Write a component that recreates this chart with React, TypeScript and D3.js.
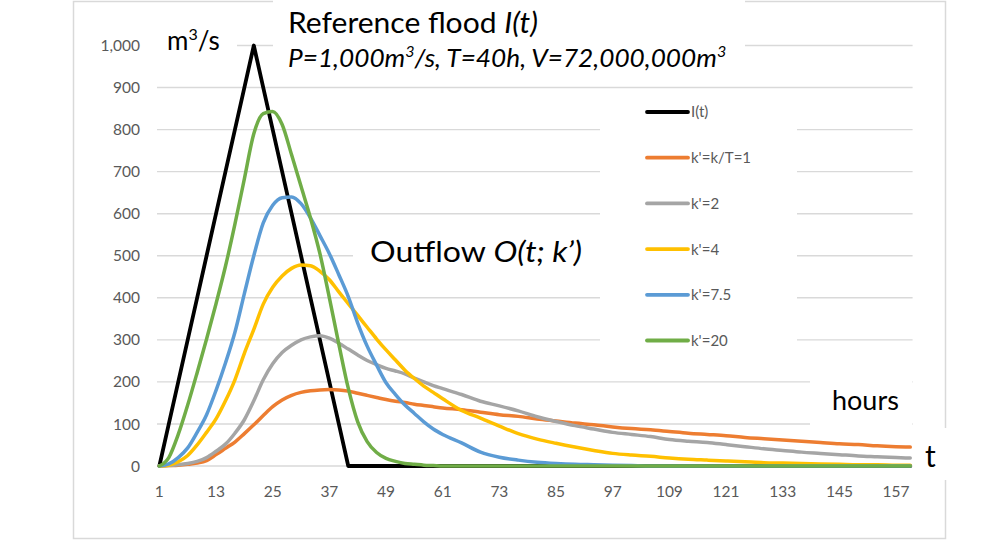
import React from "react";
import * as d3 from "d3";

const HOURS = [1,3,5,7,9,11,13,15,17,19,21,23,25,27,29,31,33,35,37,39,41,43,45,47,49,51,53,55,57,59,
  61,65,69,73,77,81,85,89,93,97,101,105,109,113,117,121,125,129,133,137,141,145,149,153,157,160];

const INFLOW = [0,100,200,300,400,500,600,700,800,900,1000,900,800,700,600,500,400,300,200,100,0,0,0,0,0,0,0,0,0,0,
  0,0,0,0,0,0,0,0,0,0,0,0,0,0,0,0,0,0,0,0,0,0,0,0,0,0];

const OUT_K1 = [0,1,2,4,7,13,27,42,57,77,98,120,141,157,168,175,179,181,182,181,178,173,168,163,158,154,151,147,144,141,
  138,134,128,122,118,112,107,102,98,93,89,86,82,78,75,72,68,65,62,59,56,53,51,48,46,45];

const OUT_K2 = [0,1,3,6,11,20,35,52,78,110,155,205,243,270,287,300,307,310,304,292,278,264,251,241,232,226,219,209,200,191,
  184,170,154,143,131,117,106,96,88,80,75,70,63,59,56,51,46,41,37,33,30,27,24,22,20,19];

const OUT_K4 = [0,2,10,25,50,80,112,155,205,268,325,385,425,452,470,478,476,463,443,414,386,358,330,302,276,252,228,208,190,175,
  160,132,114,95,77,64,54,45,37,30,26,23,19,16,14,12,10,8,7,6,5,4,3,3,2,2];

const OUT_K75 = [0,5,20,43,80,122,180,245,318,410,500,578,620,638,640,624,590,548,505,455,403,340,285,240,198,170,145,125,105,88,
  75,55,33,21,14,9,6,4,3,2,1,0,0,0,0,0,0,0,0,0,0,0,0,0,0,0];

const OUT_K20 = [0,20,75,145,222,302,386,475,575,683,790,838,843,812,740,665,590,505,400,290,185,105,58,32,18,11,6,4,2,1,
  0,0,0,0,0,0,0,0,0,0,0,0,0,0,0,0,0,0,0,0,0,0,0,0,0,0];

const SERIES_NAMES = ["I(t)", "k'=k/T=1", "k'=2", "k'=4", "k'=7.5", "k'=20"];
const SERIES_VALUES = [INFLOW, OUT_K1, OUT_K2, OUT_K4, OUT_K75, OUT_K20];
const SERIES_COLORS = ["#000000", "#ED7D31", "#A5A5A5", "#FFC000", "#5B9BD5", "#70AD47"];

const X_TICKS = [1,13,25,37,49,61,73,85,97,109,121,133,145,157];
const Y_TICKS = [0,100,200,300,400,500,600,700,800,900,1000];

const FONT = "Lato, 'Open Sans', sans-serif";

export default function App() {
  const x = d3.scaleLinear().domain([0.5, 160.5]).range([157, 912.6]);
  const y = d3.scaleLinear().domain([0, 1000]).range([466, 45.5]);
  const fmt = d3.format(",");

  const line = (vals: number[], smooth: boolean) =>
    d3.line<number>()
      .x((_, i) => x(HOURS[i]))
      .y((v) => y(v))
      .curve(smooth ? d3.curveMonotoneX : d3.curveLinear)(vals) || "";

  const legendY = d3.scaleLinear().domain([0, 5]).range([112, 340.5]);

  return (
    <svg width={990} height={544} style={{ position: "absolute", left: 0, top: 0, background: "#fff" }}
      fontFamily={FONT}>
      <rect x={0} y={0} width={990} height={544} fill="#fff" />
      {/* outer chart border */}
      <rect x={73.5} y={1.5} width={872} height={537} fill="none" stroke="#d9d9d9" strokeWidth={1.5} />
      {/* gridlines */}
      {Y_TICKS.map((t) => (
        <line key={t} x1={x.range()[0]} x2={x.range()[1]} y1={y(t)} y2={y(t)} stroke="#d9d9d9" strokeWidth={1.4} />
      ))}
      {/* y tick labels */}
      {Y_TICKS.map((t) => (
        <text key={"yl" + t} x={140} y={y(t)} dy="0.36em" textAnchor="end" fontSize={15.5} fill="#595959">{fmt(t)}</text>
      ))}
      {/* x tick labels */}
      {X_TICKS.map((t) => (
        <text key={"xl" + t} x={x(t)} y={496.5} textAnchor="middle" fontSize={15.5} fill="#595959">{t}</text>
      ))}

      {/* white text boxes (over the chart) */}
      <rect x={157} y={18} width={80} height={42} fill="#fff" />
      <rect x={273} y={0} width={472} height={85} fill="#fff" />
      <rect x={600} y={92} width={197} height={273} fill="#fff" />
      <rect x={353} y={228} width={247} height={55} fill="#fff" />
      <rect x={810} y={372} width={102} height={56} fill="#fff" />
      <rect x={913} y={428} width={60} height={52} fill="#fff" />

      {/* series lines */}
      {SERIES_VALUES.map((vals, i) => (
        <path key={SERIES_NAMES[i]} d={line(vals, i > 0)} fill="none" stroke={SERIES_COLORS[i]}
          strokeWidth={i === 0 ? 3.8 : 3.5} strokeLinejoin="round" strokeLinecap="round" />
      ))}

      {/* legend */}
      {SERIES_NAMES.map((n, i) => (
        <g key={"lg" + n}>
          <line x1={647} x2={688} y1={legendY(i)} y2={legendY(i)} stroke={SERIES_COLORS[i]} strokeWidth={3.8} strokeLinecap="round" />
          <text x={691} y={legendY(i)} dy="0.36em" fontSize={15} fill="#595959">{n}</text>
        </g>
      ))}

      {/* annotations */}
      <text x={167} y={50} fontSize={26} fill="#000">m<tspan dy={-10} fontSize={16}>3</tspan><tspan dy={10}>/s</tspan></text>
      <text x={288} y={33} fontSize={28} fill="#000" textLength={250} lengthAdjust="spacingAndGlyphs">Reference flood <tspan fontStyle="italic">I(t)</tspan></text>
      <g transform="translate(288,67) scale(1.07,1)">
        <text x={0} y={0} fontSize={24.5} fontStyle="italic" fill="#000">
          P=1,000m<tspan dy={-10} fontSize={15}>3</tspan><tspan dy={10}>/s, T=40h, V=72,000,000m</tspan><tspan dy={-10} fontSize={15}>3</tspan>
        </text>
      </g>
      <text x={370} y={262} fontSize={28} fill="#000" textLength={212} lengthAdjust="spacingAndGlyphs">Outflow <tspan fontStyle="italic">O(t; k’)</tspan></text>
      <text x={832} y={410} fontSize={27} fill="#000">hours</text>
      <text x={925} y={467} fontSize={30} fill="#000">t</text>
    </svg>
  );
}
